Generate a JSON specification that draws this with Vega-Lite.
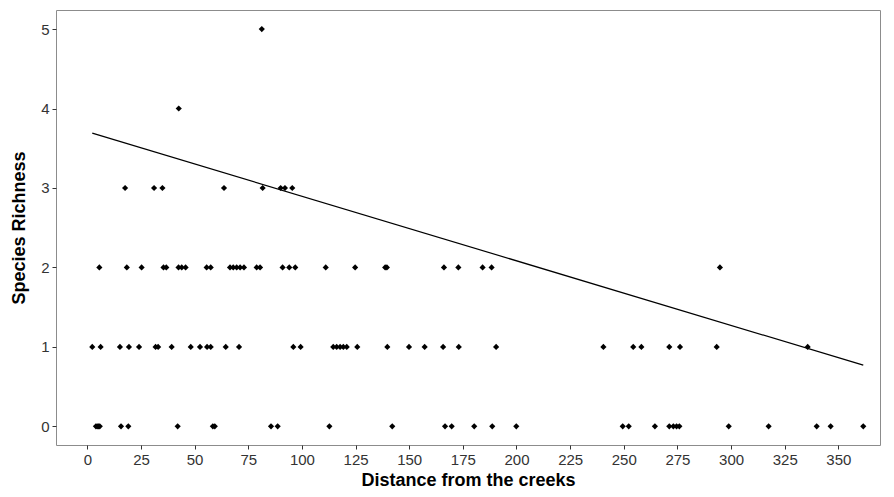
{
  "$schema": "https://vega.github.io/schema/vega-lite/v6.json",
  "autosize": "none",
  "padding": {"left": 56, "top": 10, "right": 14, "bottom": 52},
  "width": 824,
  "height": 435,
  "background": "white",
  "config": {
    "view": {"stroke": "#8c8c8c", "strokeWidth": 1},
    "font": "Liberation Sans"
  },
  "datasets": {
    "pts": [
      {"d": 4, "r": 0}, {"d": 4.6, "r": 0}, {"d": 5.2, "r": 0}, {"d": 5.8, "r": 0}, {"d": 15.7, "r": 0}, {"d": 19.1, "r": 0}, {"d": 42.1, "r": 0}, {"d": 58.5, "r": 0}, {"d": 59.4, "r": 0}, {"d": 85.6, "r": 0}, {"d": 88.7, "r": 0}, {"d": 112.8, "r": 0}, {"d": 142.1, "r": 0}, {"d": 166.7, "r": 0}, {"d": 169.8, "r": 0}, {"d": 180.3, "r": 0}, {"d": 188.7, "r": 0}, {"d": 199.9, "r": 0}, {"d": 249.5, "r": 0}, {"d": 252.3, "r": 0}, {"d": 264.5, "r": 0}, {"d": 271.2, "r": 0}, {"d": 273.1, "r": 0}, {"d": 274.6, "r": 0}, {"d": 275.9, "r": 0}, {"d": 298.9, "r": 0}, {"d": 317.5, "r": 0}, {"d": 339.9, "r": 0}, {"d": 346.4, "r": 0}, {"d": 361.6, "r": 0},
      {"d": 2.3, "r": 1}, {"d": 6.2, "r": 1}, {"d": 15.2, "r": 1}, {"d": 19.4, "r": 1}, {"d": 24.1, "r": 1}, {"d": 31.8, "r": 1}, {"d": 33, "r": 1}, {"d": 39.3, "r": 1}, {"d": 48.2, "r": 1}, {"d": 52.5, "r": 1}, {"d": 55.8, "r": 1}, {"d": 57.5, "r": 1}, {"d": 64.5, "r": 1}, {"d": 70.7, "r": 1}, {"d": 96, "r": 1}, {"d": 99.4, "r": 1}, {"d": 114.6, "r": 1}, {"d": 116.2, "r": 1}, {"d": 117.8, "r": 1}, {"d": 119.3, "r": 1}, {"d": 120.9, "r": 1}, {"d": 125.8, "r": 1}, {"d": 139.8, "r": 1}, {"d": 149.9, "r": 1}, {"d": 157.2, "r": 1}, {"d": 165.8, "r": 1}, {"d": 173.1, "r": 1}, {"d": 190.5, "r": 1}, {"d": 240.5, "r": 1}, {"d": 254.4, "r": 1}, {"d": 258.2, "r": 1}, {"d": 271.2, "r": 1}, {"d": 276.2, "r": 1}, {"d": 293.3, "r": 1}, {"d": 335.7, "r": 1},
      {"d": 5.6, "r": 2}, {"d": 18.4, "r": 2}, {"d": 25.3, "r": 2}, {"d": 35.5, "r": 2}, {"d": 36.8, "r": 2}, {"d": 42.5, "r": 2}, {"d": 44, "r": 2}, {"d": 45.8, "r": 2}, {"d": 55.6, "r": 2}, {"d": 57.5, "r": 2}, {"d": 66.5, "r": 2}, {"d": 68, "r": 2}, {"d": 69.6, "r": 2}, {"d": 71.2, "r": 2}, {"d": 73, "r": 2}, {"d": 78.9, "r": 2}, {"d": 80.5, "r": 2}, {"d": 91, "r": 2}, {"d": 94.1, "r": 2}, {"d": 96.9, "r": 2}, {"d": 111.1, "r": 2}, {"d": 124.8, "r": 2}, {"d": 138.8, "r": 2}, {"d": 139.6, "r": 2}, {"d": 166.2, "r": 2}, {"d": 172.9, "r": 2}, {"d": 184.2, "r": 2}, {"d": 188.4, "r": 2}, {"d": 294.8, "r": 2},
      {"d": 17.6, "r": 3}, {"d": 31.1, "r": 3}, {"d": 35, "r": 3}, {"d": 63.7, "r": 3}, {"d": 81.7, "r": 3}, {"d": 90.1, "r": 3}, {"d": 92.1, "r": 3}, {"d": 95.5, "r": 3},
      {"d": 42.6, "r": 4},
      {"d": 81.3, "r": 5}
    ],
    "fit": [
      {"d": 2.3, "r": 3.69},
      {"d": 361.6, "r": 0.77}
    ]
  },
  "encoding": {
    "x": {
      "field": "d", "type": "quantitative",
      "scale": {"domain": [-14.6, 369.4], "nice": false, "zero": false},
      "axis": {
        "values": [0, 25, 50, 75, 100, 125, 150, 175, 200, 225, 250, 275, 300, 325, 350],
        "title": "Distance from the creeks",
        "domain": false, "grid": false,
        "tickColor": "#333333", "tickSize": 4, "tickWidth": 1,
        "labelFont": "Liberation Sans", "labelFontSize": 15, "labelColor": "#333333", "labelPadding": 3,
        "titleFont": "Liberation Sans", "titleFontSize": 18, "titleFontWeight": "bold", "titleColor": "#000000", "titlePadding": 4
      }
    },
    "y": {
      "field": "r", "type": "quantitative",
      "scale": {"domain": [-0.235, 5.24], "nice": false, "zero": false},
      "axis": {
        "values": [0, 1, 2, 3, 4, 5],
        "title": "Species Richness",
        "domain": false, "grid": false,
        "tickColor": "#333333", "tickSize": 4, "tickWidth": 1,
        "labelFont": "Liberation Sans", "labelFontSize": 15, "labelColor": "#333333", "labelPadding": 3,
        "titleFont": "Liberation Sans", "titleFontSize": 18, "titleFontWeight": "bold", "titleColor": "#000000", "titlePadding": 12
      }
    }
  },
  "layer": [
    {
      "data": {"name": "fit"},
      "mark": {"type": "line", "color": "#000000", "strokeWidth": 1.2}
    },
    {
      "data": {"name": "pts"},
      "mark": {"type": "point", "shape": "diamond", "filled": true, "color": "#000000", "opacity": 1, "size": 38}
    }
  ]
}
